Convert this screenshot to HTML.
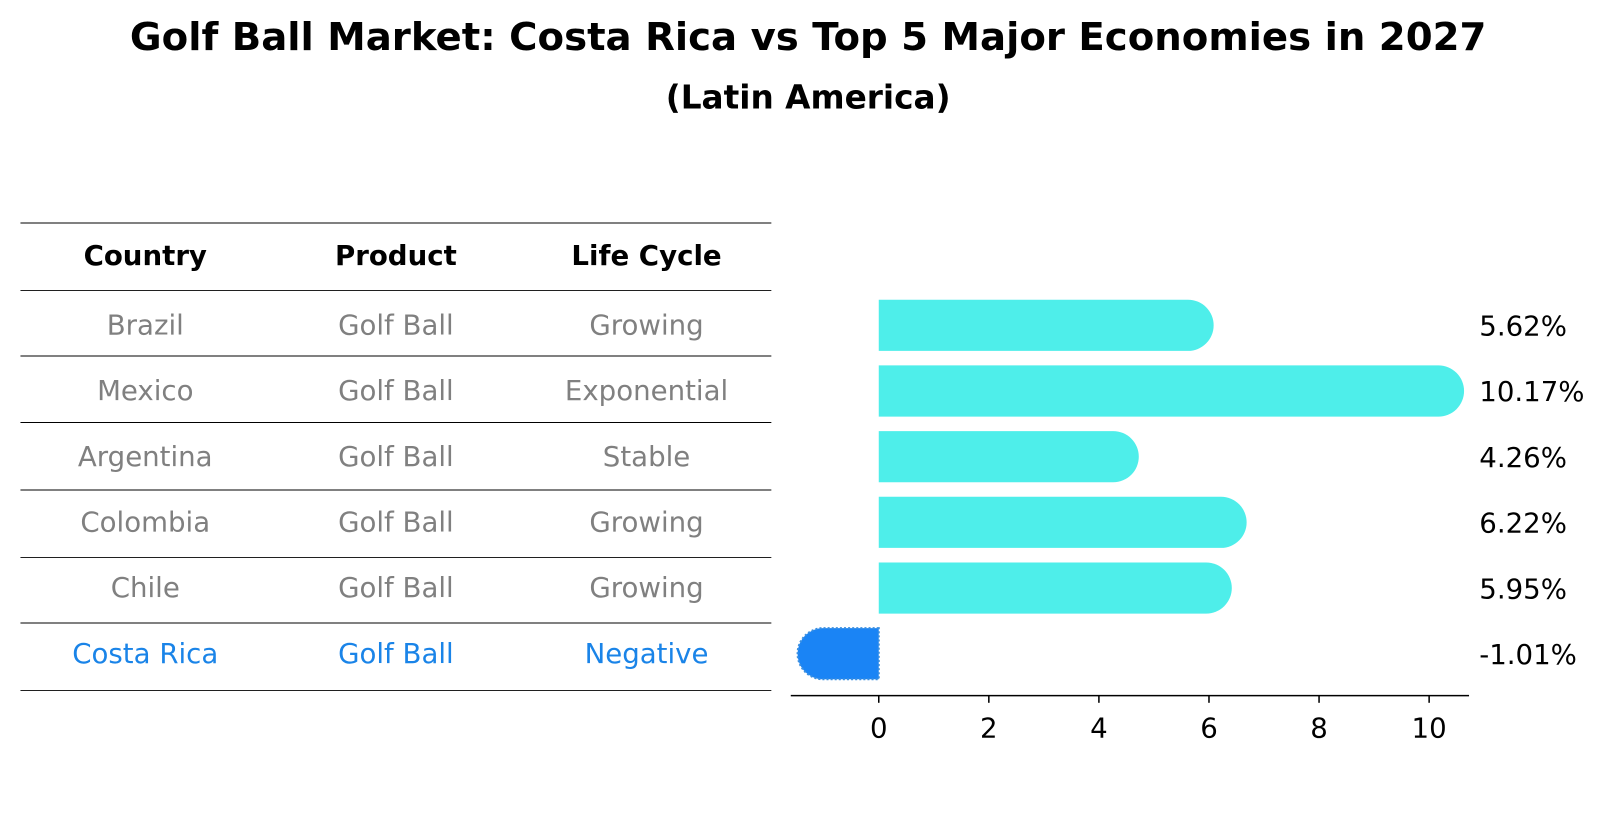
<!DOCTYPE html>
<html><head><meta charset="utf-8"><style>
body{margin:0;background:#fff;font-family:"Liberation Sans","DejaVu Sans",sans-serif;}
svg text{font-family:"DejaVu Sans","Liberation Sans",sans-serif;}
</style></head><body>
<svg width="1604" height="823" xmlns="http://www.w3.org/2000/svg" id="chart">
<g transform="scale(1.0230)">
<text x="790" y="49" text-anchor="middle" font-size="37.8" font-weight="bold">Golf Ball Market: Costa Rica vs Top 5 Major Economies in 2027</text>
<text x="790" y="106" text-anchor="middle" font-size="32" font-weight="bold">(Latin America)</text>
<g id="table"></g>
<g id="bars"></g>
</g>
</svg>
<script>
const countries=["Brazil","Mexico","Argentina","Colombia","Chile","Costa Rica"];
const products=["Golf Ball","Golf Ball","Golf Ball","Golf Ball","Golf Ball","Golf Ball"];
const lifeCycles=["Growing","Exponential","Stable","Growing","Growing","Negative"];
const growth=[5.62,10.17,4.26,6.22,5.95,-1.01];
const xTicks=[0,2,4,6,8,10];
const NS="http://www.w3.org/2000/svg";
function mk(t,a,p){const e=document.createElementNS(NS,t);for(const k in a)e.setAttribute(k,a[k]);p.appendChild(e);return e;}
const tbl=document.getElementById('table');
const FS=27;
const lineYs=[218,284,348,413,479,545,609,675];
lineYs.forEach((y,i)=>{const l=mk('line',{x1:20,x2:754,y1:y,y2:y,stroke:'#000','stroke-width':0.9},tbl);

});
const colX=[142,387,632];
["Country","Product","Life Cycle"].forEach((h,i)=>{const t=mk('text',{x:colX[i],y:259,'text-anchor':'middle','font-size':FS,'font-weight':'bold'},tbl);t.textContent=h;

});
function rowY(i){return 318+i*64.2;}
countries.forEach((c,i)=>{const col=c==="Costa Rica"?"#1a84e8":"#808080";
[c,products[i],lifeCycles[i]].forEach((v,j)=>{const t=mk('text',{x:colX[j],y:rowY(i)+9,'text-anchor':'middle','font-size':FS,fill:col},tbl);t.textContent=v;

});});
const g=document.getElementById('bars');
const x0=859,sc=53.8;function X(v){return x0+v*sc;}
const bh=50,r=25;
growth.forEach((v,i)=>{const cy=rowY(i),top=cy-bh/2;let d;
const xe=X(v);
if(v>=0){d=`M${x0},${top}H${xe}A${r},${r} 0 0 1 ${xe},${top+bh}H${x0}Z`;}
else{d=`M${x0},${top}H${xe}A${r},${r} 0 0 0 ${xe},${top+bh}H${x0}Z`;}
const p=mk('path',{d:d,fill:v>=0?'#4eeeea':'#1a84f5'},g);
if(v<0){p.setAttribute('stroke','#3a8fe0');p.setAttribute('stroke-dasharray','2,2');p.setAttribute('stroke-width','2');}


const t=mk('text',{x:1446,y:cy+10,'font-size':FS},g);t.textContent=v.toFixed(2)+'%';

});
const ax=mk('line',{x1:773,x2:1436,y1:680,y2:680,stroke:'#000','stroke-width':1.5},g);


xTicks.forEach(v=>{const tk=mk('line',{x1:X(v),x2:X(v),y1:680,y2:687,stroke:'#000','stroke-width':1.5},g);


const t=mk('text',{x:X(v),y:721,'text-anchor':'middle','font-size':FS},g);t.textContent=v;

});
</script>
</body></html>
